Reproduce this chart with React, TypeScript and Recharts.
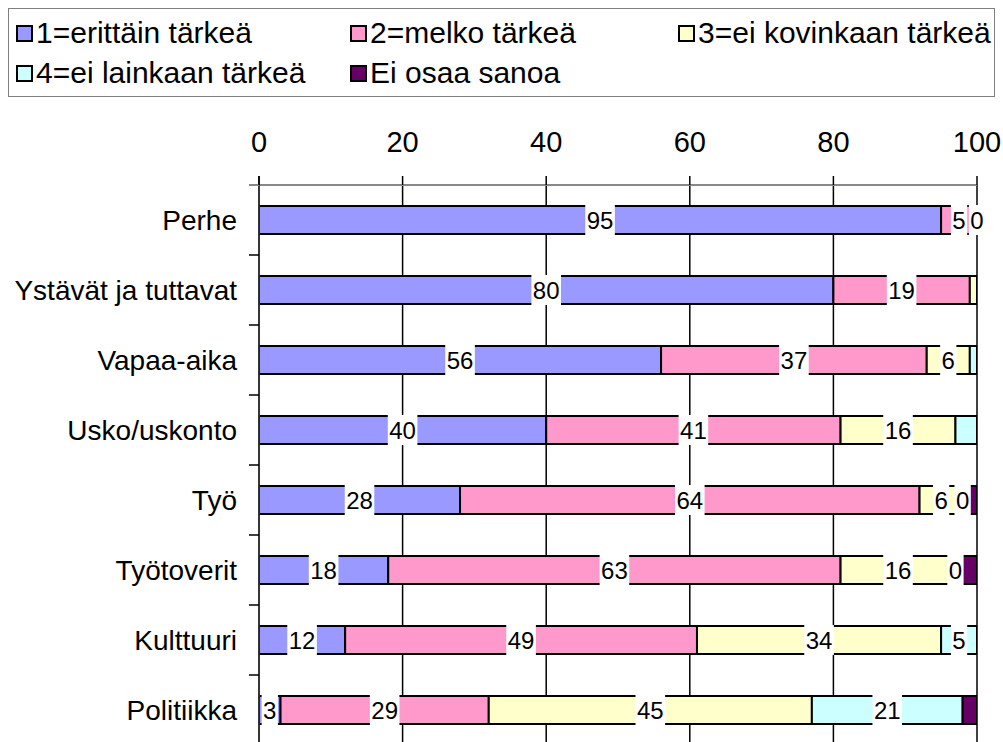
import React from "react";
import { BarChart, Bar, XAxis, YAxis, CartesianGrid, LabelList } from "recharts";

const categories = [
  "Perhe",
  "Ystävät ja tuttavat",
  "Vapaa-aika",
  "Usko/uskonto",
  "Työ",
  "Työtoverit",
  "Kulttuuri",
  "Politiikka",
];

const erittain = [95, 80, 56, 40, 28, 18, 12, 3];
const melko = [5, 19, 37, 41, 64, 63, 49, 29];
const eiKovin = [0, 1, 6, 16, 6, 16, 34, 45];
const eiLainkaan = [0, 0, 1, 3, 0, 0, 5, 21];
const eiOsaa = [0, 0, 0, 0, 2, 3, 0, 2];

// labels printed on the bars (null = not shown)
const erittainLabels = ["95", "80", "56", "40", "28", "18", "12", "3"];
const melkoLabels = ["5", "19", "37", "41", "64", "63", "49", "29"];
const eiKovinLabels = [null, null, "6", "16", "6", "16", "34", "45"];
const eiLainkaanLabels = [null, null, null, null, "0", "0", "5", "21"];
const eiOsaaLabels = ["0", null, null, null, null, null, null, null];

const xTicks = [0, 20, 40, 60, 80, 100];

const series = [
  { key: "s1", name: "1=erittäin tärkeä", values: erittain, labels: erittainLabels, color: "#9999FF" },
  { key: "s2", name: "2=melko tärkeä", values: melko, labels: melkoLabels, color: "#FF99CC" },
  { key: "s3", name: "3=ei kovinkaan tärkeä", values: eiKovin, labels: eiKovinLabels, color: "#FFFFCC" },
  { key: "s4", name: "4=ei lainkaan tärkeä", values: eiLainkaan, labels: eiLainkaanLabels, color: "#CCFFFF" },
  { key: "s5", name: "Ei osaa sanoa", values: eiOsaa, labels: eiOsaaLabels, color: "#660066" },
];

const data = categories.map((name, i) => {
  const row: Record<string, any> = { name };
  series.forEach((s) => (row[s.key] = s.values[i]));
  return row;
});

// recharts leaves zero-width segments out of the label list, so map list index -> category
const nonZero = series.map((s) => s.values.map((v, i) => (v > 0 ? i : -1)).filter((i) => i >= 0));

// a zero-sized segment has no bar of its own, so its label sits at the end of the last non-zero one
const endLabels: (string | null)[][] = series.map(() => categories.map(() => null));
series.forEach((s, j) =>
  s.values.forEach((v, i) => {
    if (v === 0 && s.labels[i] != null) {
      let k = j - 1;
      while (k > 0 && series[k].values[i] === 0) k--;
      endLabels[k][i] = s.labels[i];
    }
  })
);

const FONT = "'Liberation Sans', Arial, Helvetica, sans-serif";

function labelBox(cx: number, y: number, h: number, text: string) {
  const w = text.length * 13.3 + 3;
  return (
    <g key={text + cx}>
      <rect x={cx - w / 2} y={y - 1} width={w} height={h + 2} fill="#fff" />
      <text x={cx} y={y + h / 2 + 8.5} textAnchor="middle" fontSize={24} fontFamily={FONT} fill="#000">
        {text}
      </text>
    </g>
  );
}

function barLabel(j: number) {
  return (props: any) => {
    const { x, y, width, height, payload, index } = props;
    const i = payload?.name != null ? categories.indexOf(payload.name) : nonZero[j][index];
    if (i == null || i < 0) return null;
    const mid = series[j].values[i] > 0 ? series[j].labels[i] : null;
    const end = endLabels[j][i];
    const X = Number(x), Y = Number(y), W = Number(width), H = Number(height);
    return (
      <g>
        {mid != null && labelBox(X + W / 2, Y, H, mid)}
        {end != null && labelBox(X + W, Y, H, end)}
      </g>
    );
  };
}

function CategoryTick(props: any) {
  const { y, payload, index } = props;
  return (
    <g>
      <text x={237} y={y + 10} textAnchor="end" fontSize={28} fontFamily={FONT} fill="#000">
        {payload.value}
      </text>
      <line x1={249} x2={259} y1={y + 35} y2={y + 35} stroke="#000" strokeWidth={1.5} />
      {index === 0 && <line x1={249} x2={259} y1={y - 35} y2={y - 35} stroke="#888" strokeWidth={2} />}
      {index === 0 && <line x1={259} x2={259} y1={y - 44} y2={y - 35} stroke="#000" strokeWidth={1.5} />}
    </g>
  );
}

function Legend() {
  const item = (s: (typeof series)[number], left: number, top: number) => (
    <div key={s.key} style={{ position: "absolute", left, top, display: "flex", alignItems: "center" }}>
      <span
        style={{
          width: 13,
          height: 13,
          background: s.color,
          border: "2px solid #000",
          display: "inline-block",
          marginRight: 3,
        }}
      />
      <span style={{ fontSize: 30, fontFamily: FONT, lineHeight: "32px", whiteSpace: "nowrap" }}>{s.name}</span>
    </div>
  );
  return (
    <div
      style={{
        position: "absolute",
        left: 8,
        top: 8,
        width: 985,
        height: 87,
        border: "1px solid #808080",
        background: "#fff",
      }}
    >
      {item(series[0], 7, 8)}
      {item(series[1], 341, 8)}
      {item(series[2], 669, 8)}
      {item(series[3], 7, 48)}
      {item(series[4], 341, 48)}
    </div>
  );
}

export default function App() {
  return (
    <div style={{ position: "absolute", left: 0, top: 0, width: 1003, height: 742, overflow: "hidden", background: "#fff" }}>
      <BarChart
        width={1003}
        height={745}
        data={data}
        layout="vertical"
        barCategoryGap={0}
        margin={{ top: 125, right: 26, bottom: 0, left: 9 }}
      >
        <CartesianGrid horizontal={false} vertical stroke="#000" strokeWidth={1.5} />
        <XAxis
          type="number"
          orientation="top"
          domain={[0, 100]}
          ticks={xTicks}
          height={60}
          tickSize={9}
          tickMargin={24}
          axisLine={{ stroke: "#888", strokeWidth: 2 }}
          tickLine={{ stroke: "#000", strokeWidth: 1.5 }}
          tick={{ fill: "#000", fontSize: 29, fontFamily: FONT }}
          allowDataOverflow
        />
        <YAxis
          type="category"
          dataKey="name"
          width={250}
          axisLine={{ stroke: "#333", strokeWidth: 1.5 }}
          tickLine={false}
          tick={<CategoryTick />}
          interval={0}
        />
        {series.map((s, j) => (
          <Bar key={s.key} dataKey={s.key} stackId="a" fill={s.color} stroke="#000" strokeWidth={2} barSize={28} isAnimationActive={false}>
            <LabelList dataKey={s.key} content={barLabel(j)} />
          </Bar>
        ))}
      </BarChart>
      <Legend />
    </div>
  );
}
